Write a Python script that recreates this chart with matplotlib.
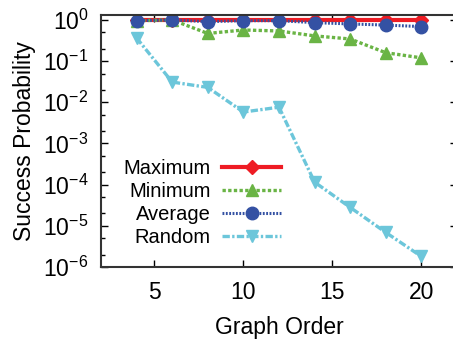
import matplotlib
matplotlib.use("Agg")
import matplotlib.pyplot as plt
from matplotlib.ticker import LogLocator, NullFormatter

plt.rcParams['font.family'] = ['Liberation Sans', 'DejaVu Sans']
plt.rcParams['mathtext.default'] = 'regular'

order = [4, 6, 8, 10, 12, 14, 16, 18, 20]
maximum = [1.0, 1.0, 1.0, 1.0, 1.0, 1.0, 1.0, 1.0, 1.0]
minimum = [0.96, 1.0, 0.47, 0.57, 0.54, 0.41, 0.345, 0.16, 0.12]
average = [0.96, 1.0, 0.91, 0.96, 0.96, 0.86, 0.80, 0.75, 0.69]
random_ = [0.365, 0.031, 0.023, 0.0058, 0.0076, 1.15e-4, 2.8e-5, 6.9e-6, 1.8e-6]

fig = plt.figure(figsize=(4.53, 3.4), dpi=100)
ax = fig.add_axes([101/453, (340-267)/340, 356/453, 252/340])

ax.plot(order, maximum, color='#ee1c24', lw=3, ls='-', marker='D', ms=7, label='Maximum')
ax.plot(order, minimum, color='#6ab445', lw=2.4, ls=(0, (1, 0.7)), marker='^', ms=9, label='Minimum')
ax.plot(order, average, color='#3451a3', lw=2.2, ls=(0, (0.6, 0.5)), marker='o', ms=9, label='Average')
ax.plot(order, random_, color='#6cc6da', lw=2.4, ls=(0, (2.2, 0.7, 0.7, 0.7)), marker='v', ms=9, label='Random')

ax.set_yscale('log')
ax.set_xlim(2, 22)
ax.set_ylim(1e-6, 10**0.12)
ax.set_xticks([5, 10, 15, 20])
ax.yaxis.set_major_locator(LogLocator(base=10, numticks=10))
ax.yaxis.set_minor_locator(LogLocator(base=10, subs=(2, 5), numticks=10))
ax.yaxis.set_minor_formatter(NullFormatter())
ax.tick_params(which='both', direction='in', top=True, right=True, labelsize=16.5, width=1)
ax.tick_params(which='major', length=5)
ax.tick_params(which='minor', length=3)
ax.tick_params(axis='x', pad=10)
ax.tick_params(axis='y', pad=9)
for s in ax.spines.values():
    s.set_linewidth(1.5)
    s.set_color('#333333')

ax.set_xlabel('Graph Order', fontsize=16.5, labelpad=9)
ax.set_ylabel('Success Probability', fontsize=16.5, labelpad=5)

fig.legend(loc='center', bbox_to_anchor=(202/453, 1 - 203/340), frameon=False,
           markerfirst=False, fontsize=14.5, handlelength=2.9, handletextpad=0.6,
           labelspacing=0.2, borderpad=0)

fig.savefig('out.png', dpi=100)
